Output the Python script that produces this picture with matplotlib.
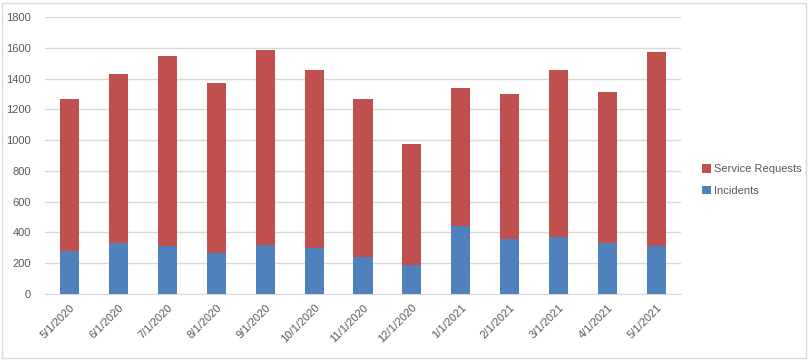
import matplotlib.pyplot as plt
from matplotlib.patches import Rectangle
import numpy as np

# monthly ticket counts
months = ["5/1/2020", "6/1/2020", "7/1/2020", "8/1/2020", "9/1/2020", "10/1/2020",
          "11/1/2020", "12/1/2020", "1/1/2021", "2/1/2021", "3/1/2021", "4/1/2021", "5/1/2021"]
incidents = [280, 331, 314, 266, 318, 301, 240, 188, 442, 357, 370, 331, 314]
totals = [1268, 1430, 1547, 1371, 1586, 1456, 1268, 975, 1339, 1300, 1456, 1313, 1573]
service_requests = [t - i for t, i in zip(totals, incidents)]

W, H = 811, 360
fig = plt.figure(figsize=(W / 100, H / 100), dpi=100)
plt.rcParams['font.family'] = ['Liberation Sans', 'DejaVu Sans']

# chart area border (Excel-like)
fig.patches.append(Rectangle((2 / W, 1 - 358 / H), 804 / W, 355 / H,
                             transform=fig.transFigure, fill=False,
                             edgecolor='#D9D9D9', lw=1))

ax = fig.add_axes([45 / W, 1 - 294 / H, 636 / W, 277 / H])
x = np.arange(len(months))
ax.bar(x, incidents, width=0.39, color='#4F81BD', label='Incidents', zorder=3)
ax.bar(x, service_requests, width=0.39, bottom=incidents, color='#C0504D',
       label='Service Requests', zorder=3)

ax.set_xlim(-0.5, len(months) - 0.5)
ax.set_ylim(0, 1800)
ax.set_yticks(range(0, 1801, 200))
ax.grid(axis='y', color='#D9D9D9', lw=1, zorder=0)
for s in ['top', 'left', 'right']:
    ax.spines[s].set_visible(False)
ax.spines['bottom'].set_color('#D9D9D9')
ax.tick_params(length=0, colors='#595959', labelsize=8)
ax.tick_params(axis='y', pad=10)
ax.tick_params(axis='x', pad=6)
ax.set_xticks(x)
ax.set_xticklabels(months, rotation=45, ha='right', rotation_mode='anchor')

handles, labels = ax.get_legend_handles_labels()
fig.legend(handles[::-1], labels[::-1], loc='center left',
           bbox_to_anchor=(692 / W, 1 - 180 / H), frameon=False,
           fontsize=8, labelcolor='#595959', handlelength=0.8, handleheight=0.8,
           handletextpad=0.3, labelspacing=1.0)

fig.savefig('out.png', dpi=100)
